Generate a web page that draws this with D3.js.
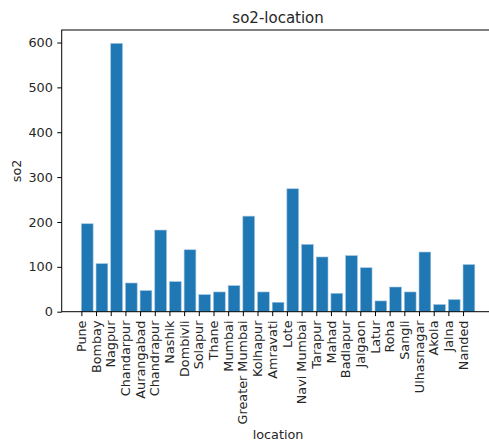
<!DOCTYPE html>
<html><head><meta charset="utf-8">
<script src="https://cdn.jsdelivr.net/npm/d3@7"></script>
<style>body{margin:0;background:#fff}svg{display:block}text{font-family:"DejaVu Sans",sans-serif;fill:#262626}</style>
</head><body>
<script>
const locations = ["Pune","Bombay","Nagpur","Chandarpur","Aurangabad","Chandrapur","Nashik","Dombivli","Solapur","Thane","Mumbai","Greater Mumbai","Kolhapur","Amravati","Lote","Navi Mumbai","Tarapur","Mahad","Badlapur","Jalgaon","Latur","Roha","Sangli","Ulhasnagar","Akola","Jalna","Nanded"];
const so2 = [196,107,598,64,47,182,67,138,38,44,58,213,44,21,274,150,122,41,125,98,24,55,44,133,16,27,105];
const yTicks = [0,100,200,300,400,500,600];

(function(){
const W = 489, H = 441;
const svg = d3.select("body").append("svg").attr("width", W).attr("height", H);
const mLeft = 61.7, mTop = 30, mBottom = 311.7;
const n = locations.length, bw = 0.8;
const lo = -0.05*(n-1+bw), hi = (n-1+bw)*1.05;
const step = 14.68;
const fs = 12.8, tl = 4.4;
const x = d3.scaleLinear().domain([lo, hi]).range([mLeft, mLeft + (hi-lo)*step]);
const y = d3.scaleLinear().domain([0, d3.max(so2)*1.05]).range([mBottom, mTop]);
const mRight = x(hi);

svg.append("g").selectAll("rect").data(so2).join("rect")
  .attr("x", (d,i)=>x(i)).attr("width", x(bw)-x(0))
  .attr("y", d=>y(d)).attr("height", d=>y(0)-y(d))
  .attr("fill", "#1f77b4").attr("stroke", "#9fc3df").attr("stroke-width", 0.6);

const ya = svg.append("g").attr("transform", `translate(${mLeft},0)`)
  .call(d3.axisLeft(y).tickValues(yTicks).tickSize(tl).tickPadding(tl));
const xa = svg.append("g").attr("transform", `translate(0,${mBottom})`)
  .call(d3.axisBottom(x).tickValues(d3.range(n)).tickFormat(i=>locations[i]).tickSize(tl).tickPadding(tl));
[ya, xa].forEach(g=>{ g.select(".domain").remove(); g.selectAll("line").attr("stroke","#000").attr("stroke-width",1); g.selectAll("text").attr("font-size",fs).attr("font-family","DejaVu Sans").attr("fill","#262626"); });
xa.selectAll("text").attr("transform","rotate(-90)").attr("text-anchor","end").attr("dy","0.32em").attr("x",-(tl*2)).attr("y",0);

svg.append("rect").attr("x",mLeft).attr("y",mTop).attr("width",mRight-mLeft).attr("height",mBottom-mTop)
  .attr("fill","none").attr("stroke","#000").attr("stroke-width",1);

svg.append("text").attr("x",(mLeft+mRight)/2).attr("y",mTop-7.5).attr("text-anchor","middle").attr("font-size",15).text("so2-location");
svg.append("text").attr("transform",`translate(21,${(mTop+mBottom)/2}) rotate(-90)`).attr("text-anchor","middle").attr("font-size",fs).text("so2");
svg.append("text").attr("x",(mLeft+mRight)/2).attr("y",439).attr("text-anchor","middle").attr("font-size",fs).text("location");
})();
</script>
</body></html>
